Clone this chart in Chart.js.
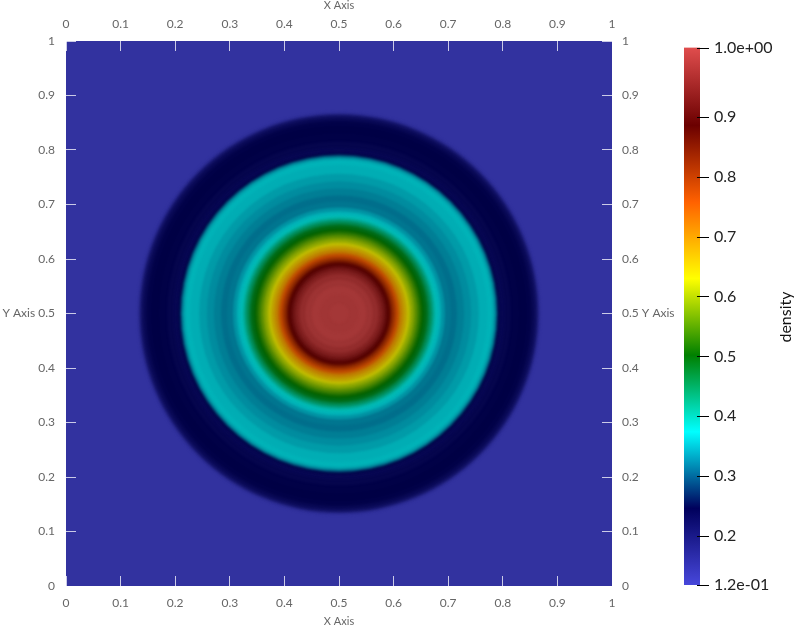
<!DOCTYPE html>
<html>
<head>
<meta charset="utf-8">
<style>
  html, body { margin: 0; padding: 0; background: #fff; }
  #plot { position: absolute; left: 0; top: 0; }
  #bar { position: absolute; left: 660px; top: 0; }
</style>
<script src="https://cdn.jsdelivr.net/npm/chart.js@4/dist/chart.umd.min.js"></script>
</head>
<body>
<canvas id="plot" width="794" height="630"></canvas>
<canvas id="bar" width="134" height="630"></canvas>
<script>
// density read along a radius from the centre of the disc, outermost first
// radius is in axis units, first entry fills the rest of the square
const ringRadius = [0.75, 0.370, 0.366, 0.363, 0.359, 0.353, 0.344, 0.330, 0.315, 0.304, 0.298,
  0.294, 0.291, 0.288, 0.285, 0.281, 0.272, 0.256, 0.242, 0.229, 0.216, 0.205, 0.194, 0.187, 0.181, 0.177,
  0.174, 0.171, 0.168, 0.164, 0.161, 0.155, 0.151, 0.146, 0.141, 0.136, 0.130, 0.124, 0.118, 0.112, 0.108,
  0.104, 0.100, 0.096, 0.093, 0.089, 0.085, 0.081, 0.077, 0.072, 0.062, 0.050, 0.035, 0.018];
const ringDensity = [0.125, 0.135, 0.17, 0.205, 0.225, 0.24, 0.246, 0.243, 0.235, 0.228, 0.228,
  0.25, 0.29, 0.33, 0.355, 0.366, 0.362, 0.35, 0.34, 0.33, 0.32, 0.325, 0.345, 0.365, 0.38, 0.39,
  0.41, 0.43, 0.45, 0.47, 0.49, 0.505, 0.525, 0.55, 0.575, 0.60, 0.635, 0.665, 0.695, 0.73, 0.76,
  0.79, 0.82, 0.85, 0.88, 0.905, 0.93, 0.95, 0.965, 0.985, 1.0, 1.01, 1.005, 1.01];

// colour map
const mapValues = [0.118, 0.246, 0.374, 0.502, 0.630, 0.758, 0.886, 1.016];
const mapColors = [[71, 71, 219], [0, 0, 92], [0, 255, 255], [0, 128, 0], [255, 255, 0], [255, 97, 0], [107, 0, 0], [224, 77, 77]];
const plotShade = 0.75;

// axis ticks
const axisTicks = [0, 0.1, 0.2, 0.3, 0.4, 0.5, 0.6, 0.7, 0.8, 0.9, 1];
const barTicks = [0.118, 0.2, 0.3, 0.4, 0.5, 0.6, 0.7, 0.8, 0.9, 1.016];
const barLabels = ['1.2e-01', '0.2', '0.3', '0.4', '0.5', '0.6', '0.7', '0.8', '0.9', '1.0e+00'];

function densityColor(v, shade) {
  let i = 0;
  while (i < mapValues.length - 2 && v > mapValues[i + 1]) i++;
  const t = Math.min(1, Math.max(0, (v - mapValues[i]) / (mapValues[i + 1] - mapValues[i])));
  const c = mapColors[i].map((a, k) => Math.round((a + (mapColors[i + 1][k] - a) * t) * shade));
  return 'rgb(' + c.join(',') + ')';
}

const tickFont = { family: 'Lato', size: 12 };
const tickGray = '#666';

function axis(position, size, extra) {
  return Object.assign({
    type: 'linear', position: position, min: 0, max: 1,
    afterBuildTicks: s => { s.ticks = axisTicks.map(v => ({ value: v })); },
    afterFit: s => {
      if (position === 'left' || position === 'right') s.width = size; else s.height = size;
    },
    border: { display: false },
    grid: { drawOnChartArea: false, tickLength: -10, color: 'rgba(255,255,255,0.75)', z: 2 },
  }, extra);
}

function xTitle(padding) {
  return { display: true, text: 'X Axis', color: tickGray, font: { family: 'Lato', size: 11 }, padding: padding };
}

// soften the edge of every disc so the rings melt together
const softRings = {
  id: 'softRings',
  beforeDatasetDraw(chart) { chart.ctx.filter = 'blur(1.2px)'; },
  afterDatasetDraw(chart) { chart.ctx.filter = 'none'; }
};

new Chart(document.getElementById('plot'), {
  type: 'scatter',
  data: {
    datasets: [{
      data: ringRadius.map((r, i) => ({ x: 0.5, y: 0.5, ring: r, density: ringDensity[i] })),
      clip: 0,
      pointBorderWidth: 0,
      pointBackgroundColor: ctx => densityColor(ctx.raw.density, plotShade),
      pointRadius: ctx => {
        const s = ctx.chart.scales.x;
        return s.getPixelForValue(0.5 + ctx.raw.ring) - s.getPixelForValue(0.5);
      }
    }]
  },
  plugins: [softRings],
  options: {
    responsive: false,
    animation: false,
    events: [],
    layout: { padding: 0 },
    plugins: { legend: { display: false }, tooltip: { enabled: false } },
    scales: {
      x: axis('bottom', 44, {
        title: xTitle({ bottom: 2 }),
        ticks: { font: tickFont, color: tickGray, padding: 20, maxRotation: 0, callback: v => String(v) }
      }),
      x2: axis('top', 41, {
        title: xTitle({ top: -1 }),
        ticks: { font: tickFont, color: tickGray, padding: 20, maxRotation: 0, callback: v => String(v) }
      }),
      y: axis('left', 66, {
        ticks: { font: tickFont, color: tickGray, padding: 21, callback: v => v === 0.5 ? 'Y Axis 0.5' : String(v) }
      }),
      y2: axis('right', 182, {
        ticks: { font: tickFont, color: tickGray, padding: 20, callback: v => v === 0.5 ? '0.5 Y Axis' : String(v) }
      })
    }
  }
});

// colour bar, tick marks overlap the bar and the title reads upwards
const barExtras = {
  id: 'barExtras',
  afterDraw(chart) {
    const s = chart.scales.y, a = chart.chartArea, ctx = chart.ctx;
    ctx.save();
    ctx.strokeStyle = '#000';
    ctx.lineWidth = 1;
    s.ticks.forEach((t, i) => {
      const y = Math.round(s.getPixelForTick(i)) + 0.5;
      ctx.beginPath();
      ctx.moveTo(a.right - 3, y);
      ctx.lineTo(a.right + 9, y);
      ctx.stroke();
    });
    ctx.translate(126, 317);
    ctx.rotate(-Math.PI / 2);
    ctx.fillStyle = '#111';
    ctx.font = '16px Lato';
    ctx.textAlign = 'center';
    ctx.textBaseline = 'middle';
    ctx.fillText('density', 0, 0);
    ctx.restore();
  }
};

new Chart(document.getElementById('bar'), {
  type: 'bar',
  data: {
    labels: ['density'],
    datasets: [{
      data: [[mapValues[0], mapValues[mapValues.length - 1]]],
      barPercentage: 1,
      categoryPercentage: 1,
      borderWidth: 0,
      backgroundColor: ctx => {
        const a = ctx.chart.chartArea;
        if (!a) return '#000';
        const g = ctx.chart.ctx.createLinearGradient(0, a.bottom, 0, a.top);
        mapValues.forEach((v, i) => g.addColorStop((v - mapValues[0]) / (mapValues[7] - mapValues[0]), densityColor(v, 1)));
        return g;
      }
    }]
  },
  plugins: [barExtras],
  options: {
    responsive: false,
    animation: false,
    events: [],
    layout: { padding: { left: 24, top: 47.5, bottom: 45 } },
    plugins: { legend: { display: false }, tooltip: { enabled: false } },
    scales: {
      x: { display: false },
      y: {
        position: 'right',
        min: mapValues[0],
        max: mapValues[7],
        afterBuildTicks: s => { s.ticks = barTicks.map(v => ({ value: v })); },
        afterFit: s => { s.width = 94; },
        border: { display: false },
        grid: { drawOnChartArea: false, drawTicks: false },
        ticks: {
          font: { family: 'Lato', size: 16 },
          color: '#222',
          padding: 14,
          callback: (v, i) => barLabels[i]
        }
      }
    }
  }
});
</script>
</body>
</html>
